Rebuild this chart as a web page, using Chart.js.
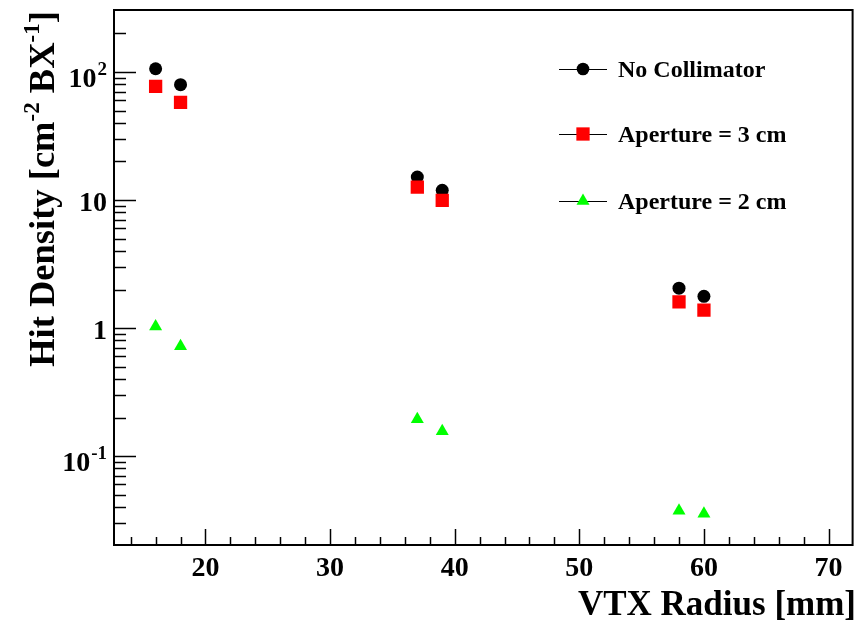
<!DOCTYPE html>
<html>
<head>
<meta charset="utf-8">
<script src="https://cdn.jsdelivr.net/npm/chart.js@4/dist/chart.umd.min.js"></script>
<style>
  html, body { margin: 0; padding: 0; background: #fff; }
  #wrap { width: 862px; height: 624px; }
</style>
</head>
<body>
<div id="wrap"><canvas id="hitChart" width="862" height="624"></canvas></div>
<script>
// values
const radius = [16, 18, 37, 39, 58, 60];
const noCollimator = [106, 79.6, 15.1, 11.9, 2.05, 1.77];
const aperture3cm = [77.3, 58, 12.6, 9.95, 1.60, 1.38];
const aperture2cm = [1.03, 0.72, 0.194, 0.156, 0.0374, 0.0355];
const seriesNames = ["No Collimator", "Aperture = 3 cm", "Aperture = 2 cm"];

const xTickLabels = [20, 30, 40, 50, 60, 70];
const yTickValues = [0.1, 1, 10, 100];
const yTickLabels = ["10^-1", "1", "10", "10^2"];

const FONT = "'Liberation Serif', 'Times New Roman', serif";

function points(vals) {
  return radius.map((r, i) => ({ x: r, y: vals[i] }));
}

function drawMarker(ctx, style, color, r, x, y) {
  ctx.fillStyle = color;
  ctx.beginPath();
  if (style === "circle") {
    ctx.arc(x, y, r, 0, Math.PI * 2);
  } else if (style === "rect") {
    const s = r * Math.SQRT1_2;
    ctx.rect(x - s, y - s, 2 * s, 2 * s);
  } else {
    ctx.moveTo(x, y - r);
    ctx.lineTo(x + r * 0.866, y + r / 2);
    ctx.lineTo(x - r * 0.866, y + r / 2);
    ctx.closePath();
  }
  ctx.fill();
}

// frame, inward ticks, labels, titles and legend in ROOT style
const rootFrame = {
  id: "rootFrame",
  afterDraw(chart) {
    const { ctx, chartArea: a, scales: { x, y } } = chart;
    ctx.save();
    ctx.strokeStyle = "#000";
    ctx.fillStyle = "#000";

    // x ticks
    ctx.lineWidth = 1.5;
    for (let v = 14; v <= 70; v += 2) {
      const px = Math.round(x.getPixelForValue(v)) + 0.5;
      const len = v % 10 === 0 ? 16 : 8;
      ctx.beginPath();
      ctx.moveTo(px, a.bottom);
      ctx.lineTo(px, a.bottom - len);
      ctx.stroke();
    }
    // y ticks (log)
    for (let d = -2; d <= 2; d++) {
      for (let m = 1; m <= 9; m++) {
        const v = m * Math.pow(10, d);
        const py = y.getPixelForValue(v);
        if (py > a.bottom - 3 || py < a.top + 3) continue;
        const len = m === 1 ? 22 : 12;
        ctx.beginPath();
        ctx.moveTo(a.left, Math.round(py) + 0.5);
        ctx.lineTo(a.left + len, Math.round(py) + 0.5);
        ctx.stroke();
      }
    }

    // frame
    ctx.lineWidth = 2;
    ctx.strokeRect(a.left, a.top, a.right - a.left, a.bottom - a.top);

    // x tick labels
    ctx.font = "bold 28px " + FONT;
    ctx.textAlign = "center";
    ctx.textBaseline = "alphabetic";
    xTickLabels.forEach(v => {
      ctx.fillText(String(v), x.getPixelForValue(v), a.bottom + 31);
    });

    // y tick labels, with superscript exponents
    ctx.textAlign = "left";
    yTickValues.forEach((v, i) => {
      const py = y.getPixelForValue(v);
      const parts = yTickLabels[i].split("^");
      const right = 107;
      if (parts.length === 2) {
        ctx.font = "bold 19px " + FONT;
        const ew = ctx.measureText(parts[1]).width;
        ctx.font = "bold 28px " + FONT;
        const bw = ctx.measureText(parts[0]).width;
        ctx.fillText(parts[0], right - ew - bw - 1, py + 15);
        ctx.font = "bold 19px " + FONT;
        ctx.fillText(parts[1], right - ew, py + 3);
      } else {
        ctx.font = "bold 28px " + FONT;
        const bw = ctx.measureText(parts[0]).width;
        ctx.fillText(parts[0], right - bw, py + 11);
      }
    });

    // x title
    ctx.font = "bold 35px " + FONT;
    ctx.textAlign = "right";
    ctx.fillText("VTX Radius [mm]", 856, 615);

    // y title, rotated
    ctx.save();
    ctx.translate(54, 189);
    ctx.rotate(-Math.PI / 2);
    const pieces = [
      ["Hit Density [cm", false], ["-2", true], [" BX", false], ["-1", true], ["]", false]
    ];
    const fontFor = sup => sup ? "bold 23px " + FONT : "bold 36.5px " + FONT;
    let total = 0;
    pieces.forEach(([t, sup]) => { ctx.font = fontFor(sup); total += ctx.measureText(t).width; });
    let cx = -total / 2;
    ctx.textAlign = "left";
    pieces.forEach(([t, sup]) => {
      ctx.font = fontFor(sup);
      ctx.fillText(t, cx, sup ? -15 : 0);
      cx += ctx.measureText(t).width;
    });
    ctx.restore();

    // legend
    const rows = [69, 134, 201];
    chart.data.datasets.forEach((ds, i) => {
      const ry = rows[i];
      ctx.lineWidth = 1;
      ctx.strokeStyle = "#000";
      ctx.beginPath();
      ctx.moveTo(559, ry + 0.5);
      ctx.lineTo(607, ry + 0.5);
      ctx.stroke();
      drawMarker(ctx, ds.pointStyle, ds.backgroundColor, ds.pointStyle === "rect" ? 9.4 : (ds.pointStyle === "circle" ? 6.3 : 7.5), 583, ry);
      ctx.fillStyle = "#000";
      ctx.font = "bold 24px " + FONT;
      ctx.textAlign = "left";
      ctx.fillText(ds.label, 618, ry + 8);
    });
    ctx.restore();
  }
};

new Chart(document.getElementById("hitChart"), {
  type: "scatter",
  data: {
    datasets: [
      {
        label: seriesNames[0],
        data: points(noCollimator),
        pointStyle: "circle",
        pointRadius: 6.5,
        backgroundColor: "#000000",
        borderWidth: 0,
        order: 3
      },
      {
        label: seriesNames[1],
        data: points(aperture3cm),
        pointStyle: "rect",
        pointRadius: 9.4,
        backgroundColor: "#ff0000",
        borderWidth: 0,
        order: 2
      },
      {
        label: seriesNames[2],
        data: points(aperture2cm),
        pointStyle: "triangle",
        pointRadius: 7.5,
        backgroundColor: "#00ff00",
        borderWidth: 0,
        order: 1
      }
    ]
  },
  options: {
    responsive: false,
    animation: false,
    layout: { padding: { left: 114, top: 10, right: 2, bottom: 79 } },
    plugins: { legend: { display: false }, tooltip: { enabled: false } },
    scales: {
      x: { type: "linear", min: 12.66, max: 71.93, display: false },
      y: { type: "logarithmic", min: 0.0202, max: 305, display: false }
    }
  },
  plugins: [rootFrame]
});
</script>
</body>
</html>
